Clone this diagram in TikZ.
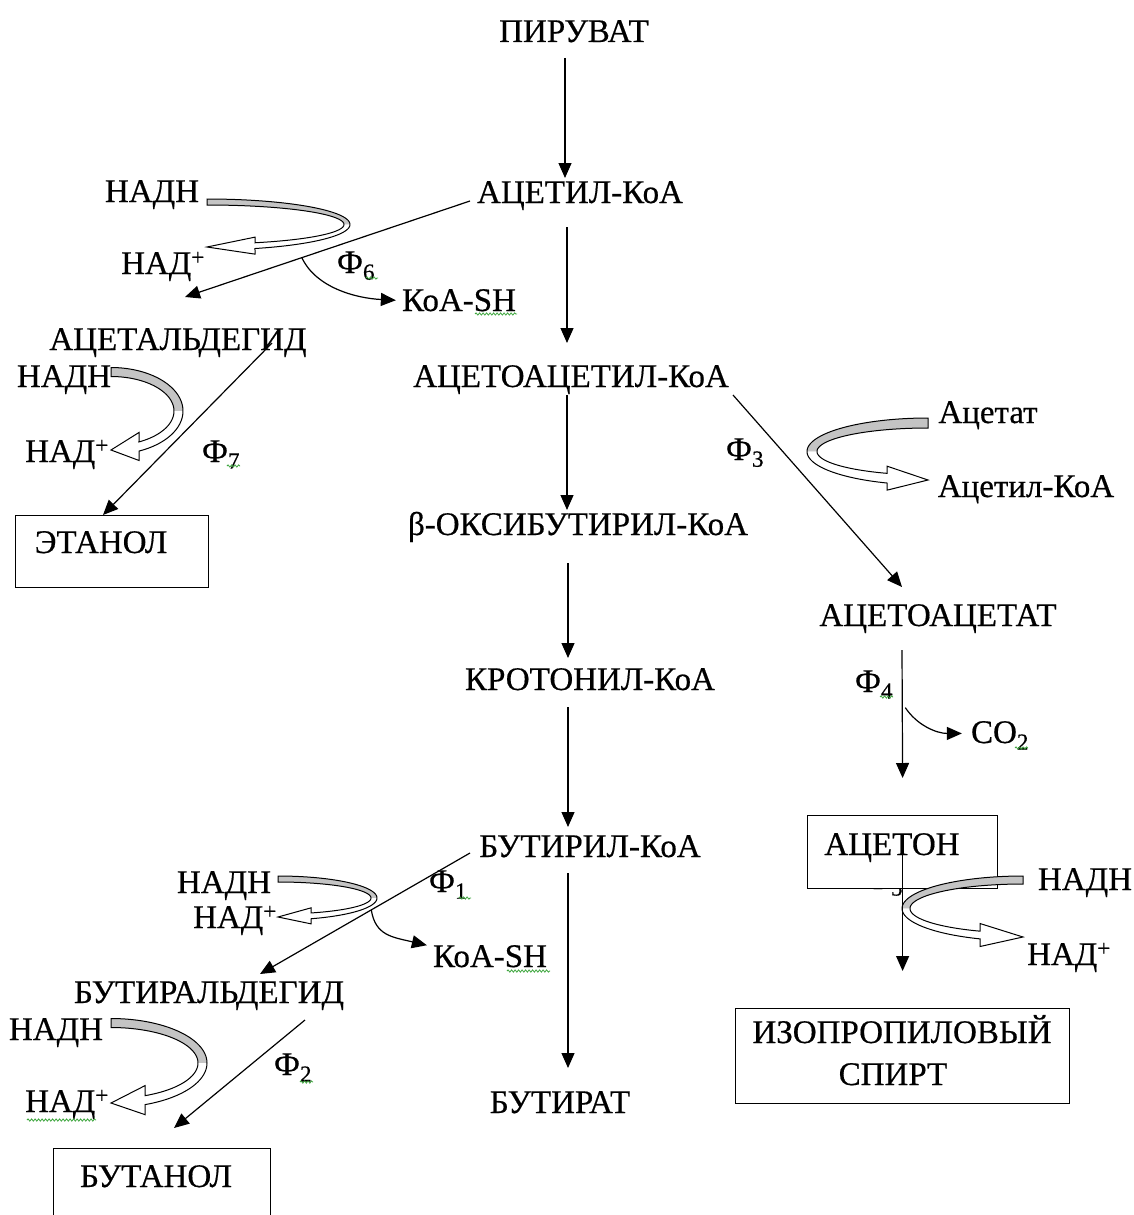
\documentclass[tikz,border=0pt]{standalone}
\usepackage{fontspec}
\setmainfont{Liberation Serif}[FakeBold=0.5]
\usetikzlibrary{arrows.meta,decorations.pathmorphing}
\definecolor{bandgray}{RGB}{196,196,196}
\definecolor{spellgreen}{RGB}{60,165,60}
\newcommand\labelfont{\fontsize{33}{39}\selectfont}
% Curved U-turn block arrow (cofactor turnover):
% #1,#2 centre of the half ellipse (tail and tip lie on x=#1), #3,#4 radii of the
% centre line, #5 band width, #6 head height, #7 head length, #8 +1 bulge right / -1 bulge left
\newcommand\uturn[8]{%
  \pgfmathsetmacro\uoa{#3+#5/2}%
  \pgfmathsetmacro\uob{#4+#5/2}%
  \pgfmathsetmacro\uia{#3-#5/2}%
  \pgfmathsetmacro\uib{#4-#5/2}%
  \pgfmathsetmacro\uto{acos(#7/\uoa)}%
  \pgfmathsetmacro\uti{acos(#7/\uia)}%
  \pgfmathsetmacro\uyh{#2+#4*sin(acos(#7/#3))}%
  \fill[bandgray] plot[domain=-90:0,samples=40] ({#1+(#8)*\uoa*cos(\x)},{#2+\uob*sin(\x)})
     -- plot[domain=0:-90,samples=40] ({#1+(#8)*\uia*cos(\x)},{#2+\uib*sin(\x)}) -- cycle;
  \fill[white] plot[domain=0:\uto,samples=30] ({#1+(#8)*\uoa*cos(\x)},{#2+\uob*sin(\x)})
     -- ({#1+(#8)*(#7)},{\uyh+(#6)/2}) -- (#1,{#2+#4}) -- ({#1+(#8)*(#7)},{\uyh-(#6)/2})
     -- plot[domain=\uti:0,samples=30] ({#1+(#8)*\uia*cos(\x)},{#2+\uib*sin(\x)}) -- cycle;
  \draw[uline] plot[domain=-90:\uto,samples=70] ({#1+(#8)*\uoa*cos(\x)},{#2+\uob*sin(\x)})
     -- ({#1+(#8)*(#7)},{\uyh+(#6)/2}) -- (#1,{#2+#4}) -- ({#1+(#8)*(#7)},{\uyh-(#6)/2})
     -- plot[domain=\uti:-90,samples=70] ({#1+(#8)*\uia*cos(\x)},{#2+\uib*sin(\x)}) -- cycle;
}
\begin{document}
\begin{tikzpicture}[x=1pt,y=-1pt,
  lbl/.style={anchor=base,inner sep=0pt,font=\labelfont},
  framebox/.style={draw,line width=1.2pt,fill=white,inner sep=0pt},
  arr/.style={line width=1.2pt,-{Triangle[length=15pt,width=13pt]}},
  uline/.style={draw=black,line width=1pt,line join=miter},
  squig/.style={draw=spellgreen,line width=0.8pt,decorate,
    decoration={snake,amplitude=1.1pt,segment length=3.5pt}}]
\useasboundingbox (0,0) rectangle (1133,1215);

% label hidden under the acetone frame
\node[lbl] (f5) at (884,889) {Ф\textsubscript{5}};

% framed end products
\node[framebox,minimum width=193,minimum height=72,anchor=north west] (etbox) at (15,515) {};
\node[framebox,minimum width=190,minimum height=73,anchor=north west] (acbox) at (807,815) {};
\node[framebox,minimum width=334,minimum height=95,anchor=north west] (ipabox) at (735,1008) {};
\node[framebox,minimum width=217,minimum height=80,anchor=north west] (butbox) at (53,1148) {};

% cofactor turnover arrows
\uturn{207}{224.5}{140}{22.5}{6}{17}{48}{1}
\uturn{111}{411}{67.5}{39}{9}{28}{28}{1}
\uturn{928}{451.5}{116}{28.5}{10}{24}{41}{-1}
\uturn{1023}{908.5}{117}{28.5}{8}{23}{43}{-1}
\uturn{278}{898}{96}{19}{6}{16}{33}{1}
\uturn{111}{1063}{91.5}{40}{9}{29}{34}{1}

% main chain
\node[lbl] (pyr) at (574,42) {ПИРУВАТ};
\node[lbl] (acoa) at (580,203) {АЦЕТИЛ-КоА};
\node[lbl] (aacoa) at (571,387) {АЦЕТОАЦЕТИЛ-КоА};
\node[lbl] (hbcoa) at (578,535) {β-ОКСИБУТИРИЛ-КоА};
\node[lbl] (crcoa) at (590,690) {КРОТОНИЛ-КоА};
\node[lbl] (bcoa) at (590,857) {БУТИРИЛ-КоА};
\node[lbl] (butyrate) at (560,1113) {БУТИРАТ};

% acetone branch
\node[lbl] (aac) at (938,626) {АЦЕТОАЦЕТАТ};
\node[lbl] (acetate) at (988,423) {Ацетат};
\node[lbl] (acoaout) at (1026,497) {Ацетил-КоА};
\node[lbl] (f3) at (745,460) {Ф\textsubscript{3}};
\node[lbl] (f4) at (874,692) {Ф\textsubscript{4}};
\node[lbl] (co2) at (1000,743) {CO\textsubscript{2}};
\node[lbl] (acetone) at (892,855) {АЦЕТОН};
\node[lbl] (nadh5) at (1085,890) {НАДН};
\node[lbl] (nad5) at (1069,965) {НАД\textsuperscript{+}};
\node[lbl] (ipa1) at (902,1043) {ИЗОПРОПИЛОВЫЙ};
\node[lbl] (ipa2) at (893,1085) {СПИРТ};

% ethanol branch
\node[lbl] (nadh1) at (152,202) {НАДН};
\node[lbl] (nad1) at (163,274) {НАД\textsuperscript{+}};
\node[lbl] (f6) at (356,273) {Ф\textsubscript{6}};
\node[lbl] (koash1) at (459,311) {КоА-SH};
\node[lbl] (acald) at (178,350) {АЦЕТАЛЬДЕГИД};
\node[lbl] (nadh2) at (64,387) {НАДН};
\node[lbl] (nad2) at (67,462) {НАД\textsuperscript{+}};
\node[lbl] (f7) at (221,462) {Ф\textsubscript{7}};
\node[lbl] (ethanol) at (101,553) {ЭТАНОЛ};

% butanol branch
\node[lbl] (nadh3) at (224,893) {НАДН};
\node[lbl] (nad3) at (235,928) {НАД\textsuperscript{+}};
\node[lbl] (f1) at (448,892) {Ф\textsubscript{1}};
\node[lbl] (koash2) at (490,967) {КоА-SH};
\node[lbl] (bald) at (209,1003) {БУТИРАЛЬДЕГИД};
\node[lbl] (nadh4) at (56,1040) {НАДН};
\node[lbl] (nad4) at (67,1112) {НАД\textsuperscript{+}};
\node[lbl] (f2) at (293,1075) {Ф\textsubscript{2}};
\node[lbl] (butanol) at (156,1187) {БУТАНОЛ};

% arrows of the main chain
\draw[arr] ([shift={(-9,16)}]pyr.base) -- ([shift={(-15,-25)}]acoa.base);
\draw[arr] ([shift={(-13,24)}]acoa.base) -- ([shift={(-4,-44)}]aacoa.base);
\draw[arr] ([shift={(-4,8)}]aacoa.base) -- ([shift={(-11,-25)}]hbcoa.base);
\draw[arr] ([shift={(-10,28)}]hbcoa.base) -- ([shift={(-22,-32)}]crcoa.base);
\draw[arr] ([shift={(-22,17)}]crcoa.base) -- ([shift={(-22,-30)}]bcoa.base);
\draw[arr] ([shift={(-22,16)}]bcoa.base) -- ([shift={(8,-45)}]butyrate.base);

% ethanol branch arrows
\draw[arr] ([shift={(-110,-2)}]acoa.base) -- coordinate[pos=0.59] (j6) ([shift={(7,-53)}]acald.base);
\draw[arr] (j6) .. controls +(14,30) and +(-40,-2) .. ([xshift=-6pt]koash1.west);
\draw[arr] ([shift={(94,-7)}]acald.base) -- ([shift={(88,0)}]etbox.north west);

% acetone branch arrows
\draw[arr] ([shift={(162,8)}]aacoa.base) -- ([shift={(-36,-39)}]aac.base);
\draw[arr] ([shift={(-36,24)}]aac.base) -- coordinate[pos=0.45] (j4) ([shift={(0,-37)}]acbox.north);
\draw[arr] ([xshift=3pt]j4) .. controls +(12,18) and +(-25,0) .. ([shift={(-9,-2)}]co2.west);
\draw[arr] ([shift={(0,40)}]acbox.north) -- ([shift={(0,-37)}]ipabox.north);

% butanol branch arrows
\draw[arr] ([shift={(-120,-4)}]bcoa.base) -- coordinate[pos=0.47] (j1) ([shift={(51,-29)}]bald.base);
\draw[arr] (j1) .. controls +(4,26) and +(-34,-8) .. ([shift={(-6,-11)}]koash2.west);
\draw[arr] ([shift={(96,17)}]bald.base) -- ([shift={(121,-20)}]butbox.north west);

% spell-check underlines
\draw[squig] (366,278) -- (378,278);
\draw[squig] (475,314) -- (517,314);
\draw[squig] (227,466) -- (240,466);
\draw[squig] (459,898) -- (471,898);
\draw[squig] (507,971) -- (550,971);
\draw[squig] (300,1082) -- (313,1082);
\draw[squig] (27,1120) -- (96,1120);
\draw[squig] (880,697) -- (893,697);
\draw[squig] (1015,748) -- (1028,748);
\end{tikzpicture}
\end{document}
